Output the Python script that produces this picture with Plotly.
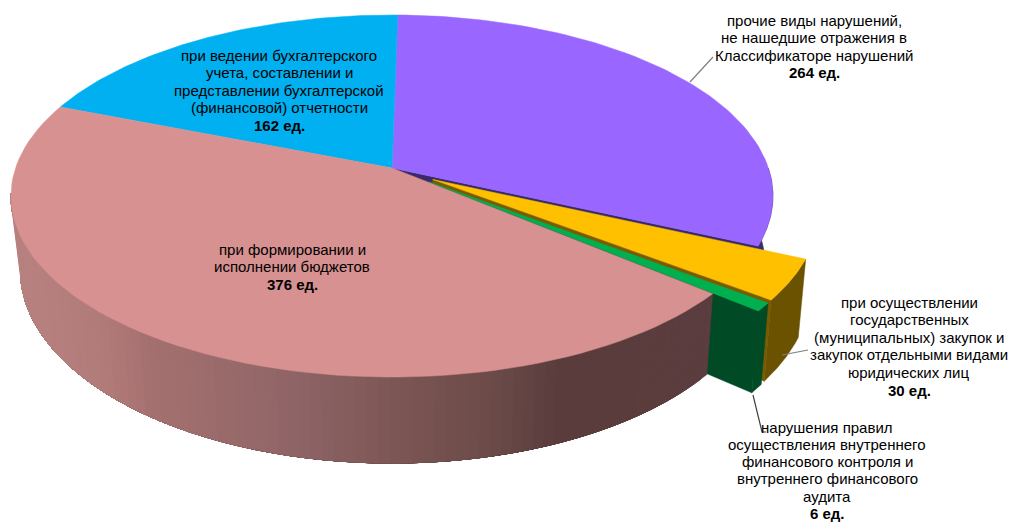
import numpy as np
import plotly.graph_objects as go

# ---- data ----
categories = [
    ["прочие виды нарушений,", "не нашедшие отражения в", "Классификаторе нарушений"],
    ["при осуществлении", "государственных", "(муниципальных) закупок и", "закупок отдельными видами", "юридических лиц"],
    ["нарушения правил", "осуществления внутреннего", "финансового контроля и", "внутреннего финансового", "аудита"],
    ["при формировании и", "исполнении бюджетов"],
    ["при ведении бухгалтерского", "учета, составлении и", "представлении бухгалтерской", "(финансовой) отчетности"],
]
values = [264, 30, 6, 376, 162]
unit = "ед."

# ---- styling ----
top_colors = ["#9966FF", "#FFC000", "#00B050", "#D79190", "#00B0F0"]
side_colors = ["#3A2A6B", "#6B5200", "#004A25", None, "#005A7A"]
end_colors = ["#3A2A6B", "#7A5C00", "#004A25", None, "#005A7A"]
explode = [0, 0.125, 0.125, 0, 0]
label_x = [814, 909, 827, 292, 279]
label_y0 = [20, 302, 427, 249, 55]
line_pitch = [17.6, 17.6, 17.3, 17.6, 17.6]

# projection of the tilted pie
CX, CY, A, B, K, D = 392, 168, 376.4, 176.7, 0.1547, 72.7
SHRINK_L, SHRINK_R = 0.975, 0.982
START = 1.0


def project(u, v, low=False):
    u, v = np.asarray(u, float), np.asarray(v, float)
    den = 1 + K * v
    px = CX + A * u / den
    py = CY - B * v / den
    if low:
        py = py + D / den
        px = CX + (px - CX) * np.where(px < CX, SHRINK_L, SHRINK_R)
    return px, py


def arc(t1, t2, off, low=False, n=80):
    t = np.radians(np.linspace(t1, t2, n))
    return project(off[0] + np.sin(t), off[1] + np.cos(t), low)


def poly(fig, x, y, color):
    fig.add_trace(go.Scatter(
        x=list(x), y=list(y), mode="lines", fill="toself", fillcolor=color,
        line=dict(color=color, width=0.5), hoverinfo="skip", showlegend=False))


def top_face(fig, t1, t2, off, color):
    ax, ay = project(off[0], off[1])
    x, y = arc(t1, t2, off)
    poly(fig, np.r_[ax, x, ax], np.r_[ay, y, ay], color)


def outer_side(fig, t1, t2, off, color):
    x, y = arc(t1, t2, off)
    xl, yl = arc(t1, t2, off, True)
    poly(fig, np.r_[x, xl[::-1], x[0]], np.r_[y, yl[::-1], y[0]], color)


def radial_face(fig, t, off, color):
    ax, ay = project(off[0], off[1])
    bx, by = project(off[0], off[1], True)
    r = np.radians(t)
    ox, oy = project(off[0] + np.sin(r), off[1] + np.cos(r))
    qx, qy = project(off[0] + np.sin(r), off[1] + np.cos(r), True)
    poly(fig, [ax, ox, qx, bx, ax], [ay, oy, qy, by, ay], color)


# slice angles
total = sum(values)
edges = START + np.r_[0, np.cumsum(values)] * 360 / total
offs = []
for i in range(len(values)):
    mid = np.radians((edges[i] + edges[i + 1]) / 2)
    offs.append((explode[i] * np.sin(mid), explode[i] * np.cos(mid)))

fig = go.Figure()

# purple: radial face + visible outer side, then top
radial_face(fig, edges[1], offs[0], side_colors[0])
outer_side(fig, 90, edges[1], offs[0], side_colors[0])
top_face(fig, edges[0], edges[1], offs[0], top_colors[0])
# blue top
top_face(fig, edges[4], edges[5], offs[4], top_colors[4])
# orange
radial_face(fig, edges[2], offs[1], end_colors[1])
outer_side(fig, edges[1], edges[2], offs[1], side_colors[1])
top_face(fig, edges[1], edges[2], offs[1], top_colors[1])
# green
radial_face(fig, edges[3], offs[2], end_colors[2])
outer_side(fig, edges[2], edges[3], offs[2], side_colors[2])
top_face(fig, edges[2], edges[3], offs[2], top_colors[2])

# pink side with horizontal gradient: painted from the right so that each strip
# runs under its neighbour and no seams show
stop_x = [20, 100, 150, 300, 400, 500, 560, 710]
stop_r = [0xB8, 0xB2, 0xA5, 0x8F, 0x7C, 0x6A, 0x5A, 0x5C]
stop_g = [0x82, 0x7C, 0x71, 0x64, 0x56, 0x4A, 0x3C, 0x3E]
stop_b = [0x80, 0x7A, 0x70, 0x66, 0x54, 0x48, 0x3C, 0x40]
strips = np.linspace(edges[3], 262, 90)
for a, b in zip(strips[:-1], strips[1:]):
    x, y = arc(a, b, offs[3], n=3)
    xl, yl = arc(a, b, offs[3], True, n=3)
    xm = (x.mean() + xl.mean()) / 2
    c = "rgb(%d,%d,%d)" % (np.interp(xm, stop_x, stop_r),
                           np.interp(xm, stop_x, stop_g),
                           np.interp(xm, stop_x, stop_b))
    # extend the strip to the far end: later strips paint over the remainder
    x, y = arc(a, 262, offs[3], n=max(3, int(262 - a) + 3))
    xl, yl = arc(a, 262, offs[3], True, n=max(3, int(262 - a) + 3))
    poly(fig, np.r_[x, xl[::-1], x[0]], np.r_[y, yl[::-1], y[0]], c)
top_face(fig, edges[3], edges[4], offs[3], top_colors[3])

# leader lines
leaders = [
    ([690, 713], [82, 57], "#7F7F7F"),
    ([782, 808], [355, 350], "#7F7F7F"),
    ([753, 762, 766], [395, 432, 432], "#404040"),
]
for lx, ly, lc in leaders:
    fig.add_trace(go.Scatter(x=lx, y=ly, mode="lines", line=dict(color=lc, width=1.2),
                             hoverinfo="skip", showlegend=False))

FONT = "Liberation Sans, Arial, sans-serif"
for cat, val, lx, ly0, pitch in zip(categories, values, label_x, label_y0, line_pitch):
    rows = list(cat) + [f"<b>{val} {unit}</b>"]
    for j, row in enumerate(rows):
        fig.add_annotation(x=lx, y=ly0 + j * pitch, xref="x", yref="y", showarrow=False,
                           text=row, align="center", borderpad=0,
                           font=dict(family=FONT, size=15, color="#000000"))

fig.update_xaxes(range=[0, 1013], visible=False, fixedrange=True)
fig.update_yaxes(range=[522, 0], visible=False, fixedrange=True)
fig.update_layout(width=1013, height=522, margin=dict(l=0, r=0, t=0, b=0),
                  paper_bgcolor="white", plot_bgcolor="white", showlegend=False)
fig.write_html("out.html", config={"displayModeBar": False},
               post_script="document.body.style.margin='0';document.body.style.overflow='hidden';")
